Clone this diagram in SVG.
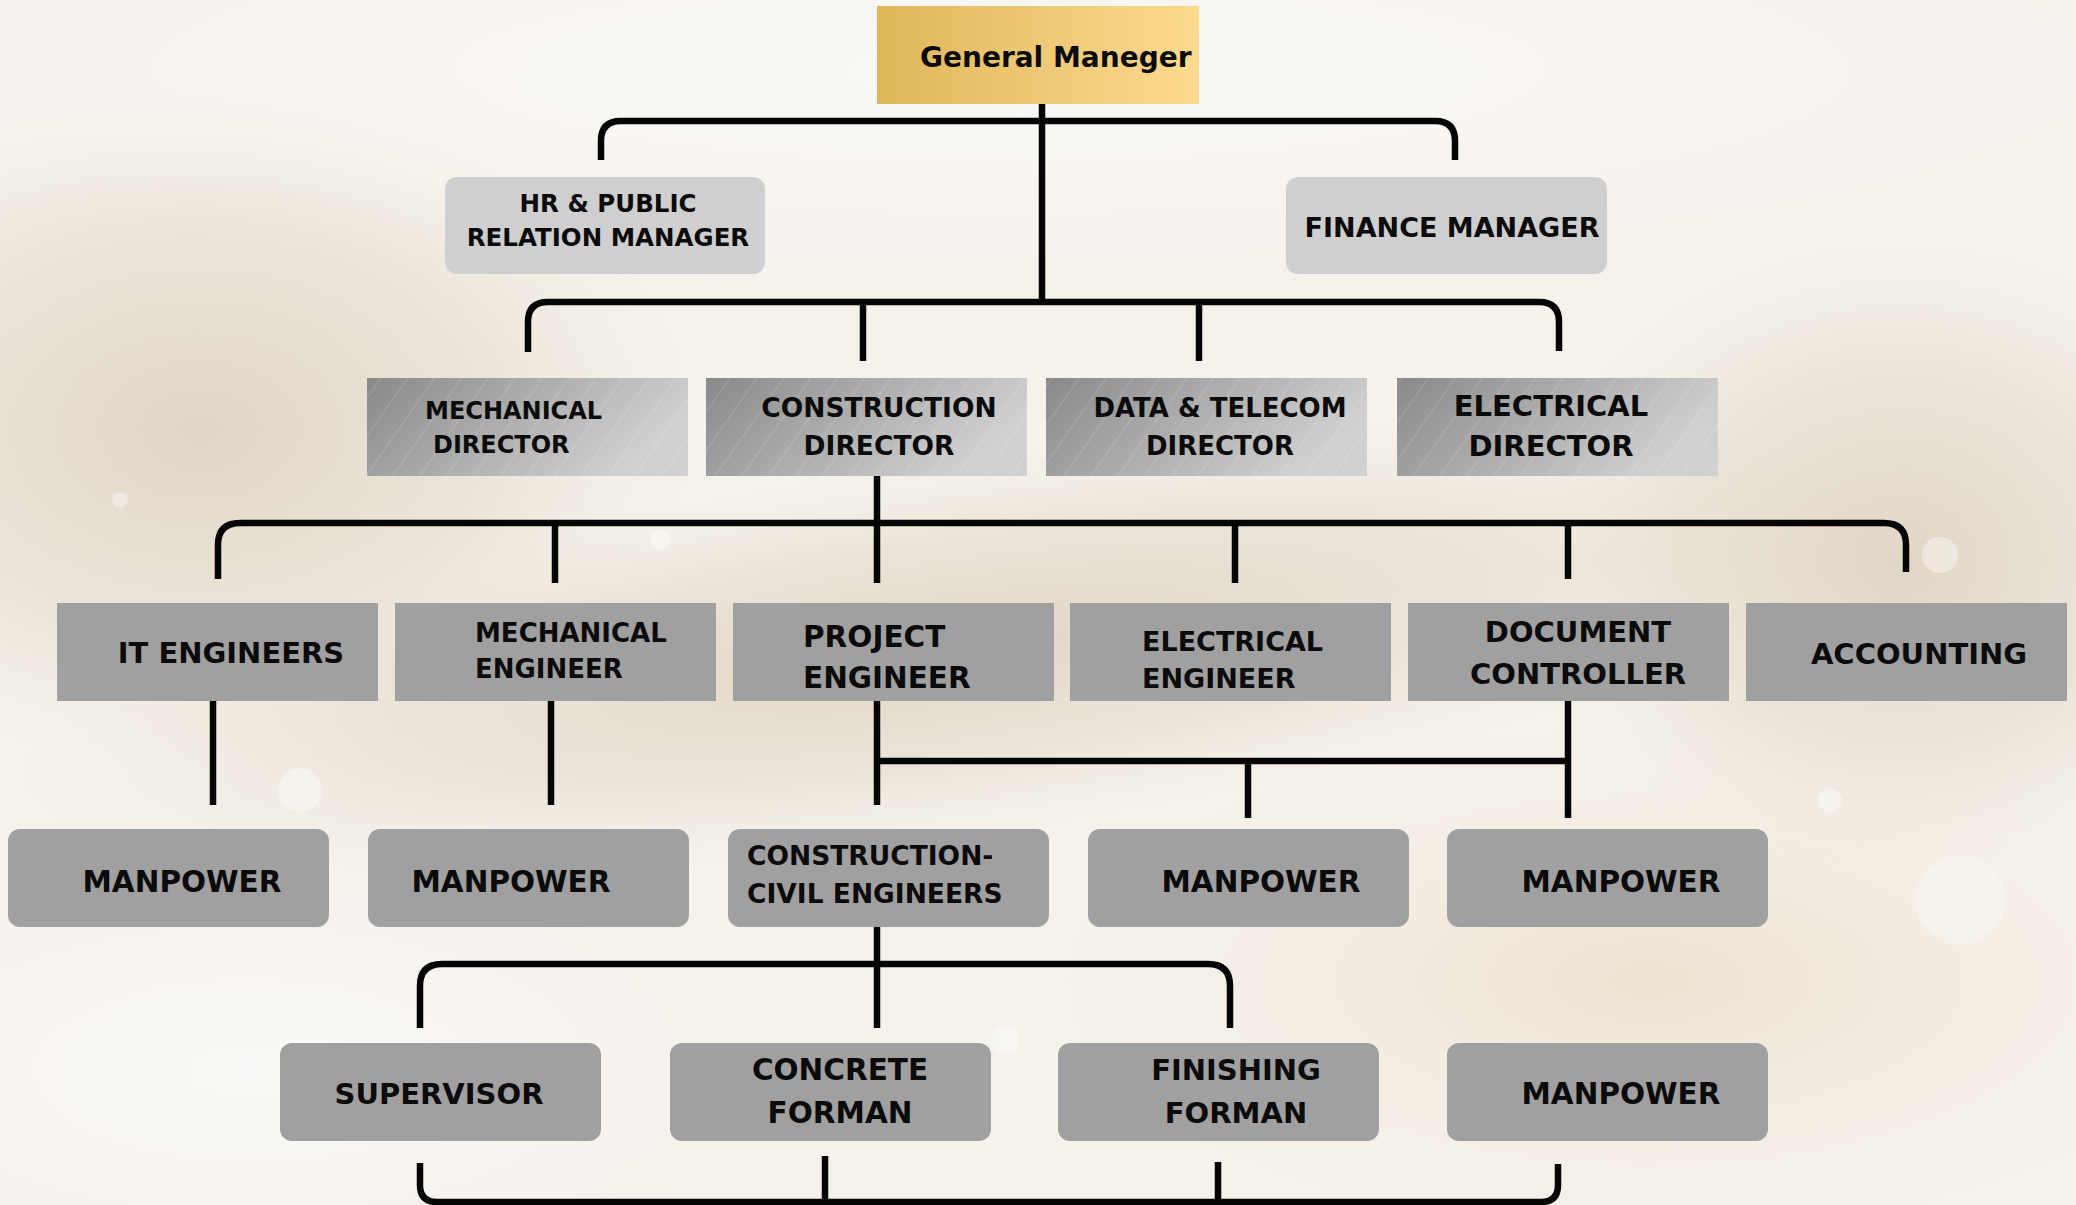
<svg xmlns="http://www.w3.org/2000/svg" width="2076" height="1205" viewBox="0 0 2076 1205">
<defs>
  <linearGradient id="gold" x1="0" y1="0" x2="1" y2="0">
    <stop offset="0" stop-color="#e0b65a"/>
    <stop offset="1" stop-color="#fcda8f"/>
  </linearGradient>
  <linearGradient id="steel" x1="0" y1="0" x2="1" y2="0.35">
    <stop offset="0" stop-color="#898989"/>
    <stop offset="1" stop-color="#d0d0d0"/>
  </linearGradient>
  <pattern id="stripes" width="22" height="22" patternUnits="userSpaceOnUse" patternTransform="rotate(35)">
    <rect width="22" height="22" fill="none"/>
    <line x1="0" y1="0" x2="0" y2="22" stroke="#ffffff" stroke-opacity="0.12" stroke-width="3"/>
  </pattern>
  <radialGradient id="sparkA" cx="0.5" cy="0.5" r="0.5">
    <stop offset="0" stop-color="#d9cdb9" stop-opacity="0.75"/>
    <stop offset="0.6" stop-color="#e0d5c3" stop-opacity="0.45"/>
    <stop offset="1" stop-color="#efe7da" stop-opacity="0"/>
  </radialGradient>
  <radialGradient id="sparkB" cx="0.5" cy="0.5" r="0.5">
    <stop offset="0" stop-color="#ebdcc4" stop-opacity="0.7"/>
    <stop offset="1" stop-color="#f3eadc" stop-opacity="0"/>
  </radialGradient>
  <radialGradient id="white" cx="0.5" cy="0.5" r="0.5">
    <stop offset="0" stop-color="#faf9f7" stop-opacity="1"/>
    <stop offset="1" stop-color="#faf9f7" stop-opacity="0"/>
  </radialGradient>
  <style>
    .lbl { font-family: "DejaVu Sans", "Liberation Sans", sans-serif; font-weight: 700; fill: #0b0b0b; }
    .mid { text-anchor: middle; }
    .light { fill: #cfcfcf; }
    .flat { fill: #a0a0a0; }
    .conn path { fill: none; stroke: #050505; stroke-width: 6.5; stroke-linecap: butt; }
    .bokeh circle { fill: #ffffff; }
  </style>
</defs>

<g id="background">
  <rect width="2076" height="1205" fill="#f5f1eb"/>
  <ellipse cx="1000" cy="70" rx="1300" ry="220" fill="url(#white)"/>
  <ellipse cx="200" cy="430" rx="500" ry="340" fill="url(#sparkA)"/>
  <ellipse cx="950" cy="650" rx="950" ry="190" fill="url(#sparkA)" transform="rotate(-8 950 650)"/>
  <ellipse cx="1900" cy="560" rx="380" ry="320" fill="url(#sparkA)"/>
  <ellipse cx="1650" cy="980" rx="600" ry="260" fill="url(#sparkB)"/>
  <ellipse cx="250" cy="1070" rx="520" ry="220" fill="url(#white)"/>
  <g class="bokeh">
    <circle cx="300" cy="790" r="22" opacity="0.35"/>
    <circle cx="1940" cy="555" r="18" opacity="0.4"/>
    <circle cx="1960" cy="900" r="45" opacity="0.25"/>
    <circle cx="1005" cy="1040" r="14" opacity="0.35"/>
    <circle cx="1830" cy="800" r="12" opacity="0.4"/>
    <circle cx="660" cy="540" r="10" opacity="0.4"/>
    <circle cx="120" cy="500" r="8" opacity="0.4"/>
    <circle cx="1700" cy="1120" r="10" opacity="0.35"/>
  </g>
</g>

<g id="connectors" class="conn">
  <path d="M1042,104 V302"/>
  <path d="M601,160 V141 Q601,121 621,121 H1435 Q1455,121 1455,141 V160"/>
  <path d="M528,352 V322 Q528,302 548,302 H1539 Q1559,302 1559,322 V351"/>
  <path d="M863,302 V361"/>
  <path d="M1199,302 V361"/>
  <path d="M877,476 V583"/>
  <path d="M218,579 V545 Q218,523 240,523 H1884 Q1906,523 1906,545 V572"/>
  <path d="M555,523 V583"/>
  <path d="M1235,523 V583"/>
  <path d="M1568,523 V579"/>
  <path d="M213,701 V805"/>
  <path d="M551,701 V805"/>
  <path d="M877,701 V805"/>
  <path d="M877,761 H1568"/>
  <path d="M1248,761 V818"/>
  <path d="M1568,701 V818"/>
  <path d="M877,927 V1028"/>
  <path d="M420,1028 V986 Q420,964 442,964 H1208 Q1230,964 1230,986 V1028"/>
  <path d="M420,1163 V1185 Q420,1202 437,1202 H1541 Q1558,1202 1558,1185 V1164"/>
  <path d="M825,1156 V1202"/>
  <path d="M1218,1162 V1202"/>
</g>

<g id="general-manager">
  <rect x="877" y="6" width="322" height="98" fill="url(#gold)"/>
  <text class="lbl" x="920" y="67" font-size="28">General Maneger</text>
</g>

<g id="hr-manager">
  <rect class="light" x="445" y="177" width="320" height="97" rx="12"/>
  <text class="lbl mid" x="608" y="212" font-size="24.5">HR &amp; PUBLIC</text>
  <text class="lbl mid" x="608" y="246" font-size="24.5">RELATION MANAGER</text>
</g>

<g id="finance-manager">
  <rect class="light" x="1286" y="177" width="321" height="97" rx="12"/>
  <text class="lbl mid" x="1452" y="237" font-size="27">FINANCE MANAGER</text>
</g>

<g id="mechanical-director">
  <rect x="367" y="378" width="321" height="98" fill="url(#steel)"/>
  <rect x="367" y="378" width="321" height="98" fill="url(#stripes)"/>
  <text class="lbl" x="425" y="419" font-size="24">MECHANICAL</text>
  <text class="lbl" x="433" y="453" font-size="24">DIRECTOR</text>
</g>

<g id="construction-director">
  <rect x="706" y="378" width="321" height="98" fill="url(#steel)"/>
  <rect x="706" y="378" width="321" height="98" fill="url(#stripes)"/>
  <text class="lbl mid" x="879" y="417" font-size="26.5">CONSTRUCTION</text>
  <text class="lbl mid" x="879" y="455" font-size="26.5">DIRECTOR</text>
</g>

<g id="data-telecom-director">
  <rect x="1046" y="378" width="321" height="98" fill="url(#steel)"/>
  <rect x="1046" y="378" width="321" height="98" fill="url(#stripes)"/>
  <text class="lbl mid" x="1220" y="417" font-size="26">DATA &amp; TELECOM</text>
  <text class="lbl mid" x="1220" y="455" font-size="26">DIRECTOR</text>
</g>

<g id="electrical-director">
  <rect x="1397" y="378" width="321" height="98" fill="url(#steel)"/>
  <rect x="1397" y="378" width="321" height="98" fill="url(#stripes)"/>
  <text class="lbl mid" x="1551" y="416" font-size="29">ELECTRICAL</text>
  <text class="lbl mid" x="1551" y="456" font-size="29">DIRECTOR</text>
</g>

<g id="it-engineers">
  <rect class="flat" x="57" y="603" width="321" height="98"/>
  <text class="lbl mid" x="231" y="663" font-size="29">IT ENGINEERS</text>
</g>

<g id="mechanical-engineer">
  <rect class="flat" x="395" y="603" width="321" height="98"/>
  <text class="lbl" x="475" y="642" font-size="26">MECHANICAL</text>
  <text class="lbl" x="475" y="678" font-size="26">ENGINEER</text>
</g>

<g id="project-engineer">
  <rect class="flat" x="733" y="603" width="321" height="98"/>
  <text class="lbl" x="803" y="647" font-size="29.5">PROJECT</text>
  <text class="lbl" x="803" y="688" font-size="29.5">ENGINEER</text>
</g>

<g id="electrical-engineer">
  <rect class="flat" x="1070" y="603" width="321" height="98"/>
  <text class="lbl" x="1142" y="651" font-size="27">ELECTRICAL</text>
  <text class="lbl" x="1142" y="688" font-size="27">ENGINEER</text>
</g>

<g id="document-controller">
  <rect class="flat" x="1408" y="603" width="321" height="98"/>
  <text class="lbl mid" x="1578" y="642" font-size="29">DOCUMENT</text>
  <text class="lbl mid" x="1578" y="684" font-size="29">CONTROLLER</text>
</g>

<g id="accounting">
  <rect class="flat" x="1746" y="603" width="321" height="98"/>
  <text class="lbl mid" x="1919" y="664" font-size="29">ACCOUNTING</text>
</g>

<g id="manpower-it">
  <rect class="flat" x="8" y="829" width="321" height="98" rx="12"/>
  <text class="lbl mid" x="182" y="892" font-size="29.5">MANPOWER</text>
</g>

<g id="manpower-mechanical">
  <rect class="flat" x="368" y="829" width="321" height="98" rx="12"/>
  <text class="lbl mid" x="511" y="892" font-size="29.5">MANPOWER</text>
</g>

<g id="construction-civil-engineers">
  <rect class="flat" x="728" y="829" width="321" height="98" rx="12"/>
  <text class="lbl" x="747" y="865" font-size="26.5">CONSTRUCTION-</text>
  <text class="lbl" x="747" y="903" font-size="26.5">CIVIL ENGINEERS</text>
</g>

<g id="manpower-electrical">
  <rect class="flat" x="1088" y="829" width="321" height="98" rx="12"/>
  <text class="lbl mid" x="1261" y="892" font-size="29.5">MANPOWER</text>
</g>

<g id="manpower-document">
  <rect class="flat" x="1447" y="829" width="321" height="98" rx="12"/>
  <text class="lbl mid" x="1621" y="892" font-size="29.5">MANPOWER</text>
</g>

<g id="supervisor">
  <rect class="flat" x="280" y="1043" width="321" height="98" rx="12"/>
  <text class="lbl mid" x="439" y="1104" font-size="29">SUPERVISOR</text>
</g>

<g id="concrete-forman">
  <rect class="flat" x="670" y="1043" width="321" height="98" rx="12"/>
  <text class="lbl mid" x="840" y="1080" font-size="29.5">CONCRETE</text>
  <text class="lbl mid" x="840" y="1123" font-size="29.5">FORMAN</text>
</g>

<g id="finishing-forman">
  <rect class="flat" x="1058" y="1043" width="321" height="98" rx="12"/>
  <text class="lbl mid" x="1236" y="1080" font-size="29">FINISHING</text>
  <text class="lbl mid" x="1236" y="1123" font-size="29">FORMAN</text>
</g>

<g id="manpower-bottom">
  <rect class="flat" x="1447" y="1043" width="321" height="98" rx="12"/>
  <text class="lbl mid" x="1621" y="1104" font-size="29.5">MANPOWER</text>
</g>
</svg>
